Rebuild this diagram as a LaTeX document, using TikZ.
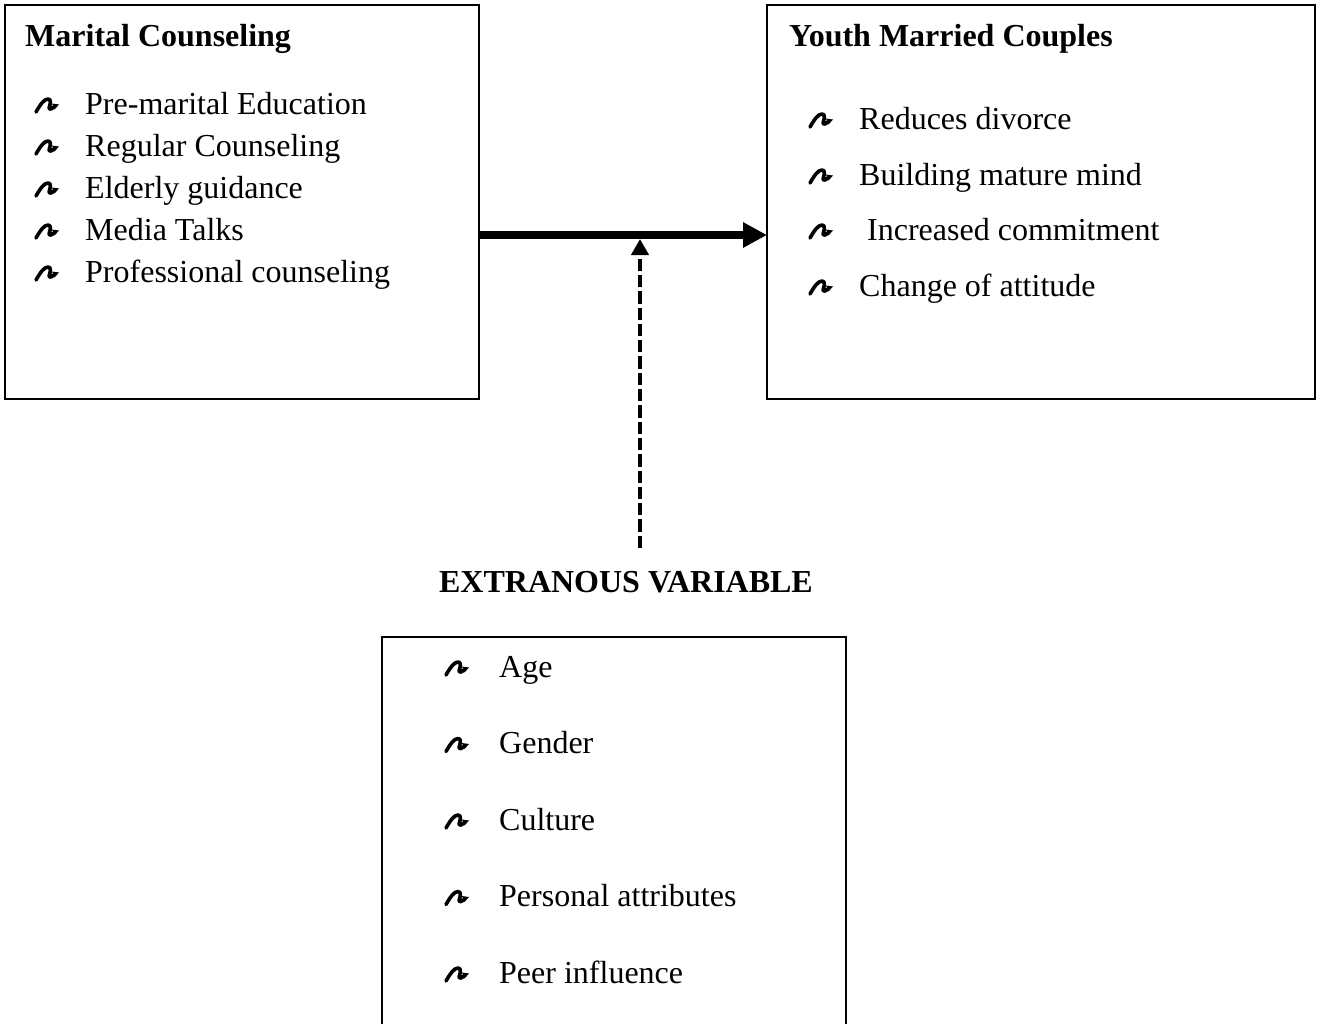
\documentclass[tikz,border=0pt]{standalone}
\usepackage{fontspec}
\setmainfont{Liberation Serif}
\usetikzlibrary{arrows.meta}
\begin{document}
\begin{tikzpicture}[x=1pt,y=-1pt,
  box/.style={draw=black, line width=1.2pt, inner sep=0pt, outer sep=0pt, anchor=north west},
  itm/.style={anchor=base west, inner sep=0pt, font=\fontsize{32}{38}\selectfont},
  ttl/.style={anchor=base west, inner sep=0pt, font=\fontsize{32}{38}\selectfont\bfseries},
  mainarrow/.style={line width=7.5pt, -{Triangle[length=24pt,width=24pt]}},
  dasharrow/.style={line width=4pt, dash pattern=on 12.3pt off 4pt, -{Triangle[length=16pt,width=17pt]}},
  wb/.pic={
    \draw[line width=3.6pt, line cap=round, line join=round]
      (1,-2) .. controls (5,-9) and (9,-15) .. (13,-15)
      .. controls (17,-15) and (15,-9) .. (14,-6)
      .. controls (13.5,-4) and (16,-4.5) .. (19,-7);
    \fill (17,-10.5) -- (24,-9.5) -- (19.5,-4.5) -- cycle;
  }]
\useasboundingbox (0,0) rectangle (1320,1023);
\begin{scope}
\clip (0,0) rectangle (1320,1023);

% boxes
\node[box, minimum width=474pt, minimum height=394pt] (mc) at (5,5) {};
\node[box, minimum width=548pt, minimum height=394pt] (ymc) at (767,5) {};
\node[box, minimum width=464pt, minimum height=420pt] (ev) at (382,637) {};

% left box
\node[ttl] (mct) at (25,46) {Marital Counseling};
\foreach \t [count=\i] in {Pre-marital Education, Regular Counseling, Elderly guidance, Media Talks, Professional counseling}{
  \pic at (35,{72+42*\i}) {wb};
  \node[itm] (mci\i) at (85,{72+42*\i}) {\t};
}

% right box
\node[ttl] (ymct) at (789,46) {Youth Married Couples};
\pic at (809,129) {wb};
\node[itm] (ymc1) at (859,129) {Reduces divorce};
\pic at (809,185) {wb};
\node[itm] (ymc2) at (859,185) {Building mature mind};
\pic at (809,240) {wb};
\node[itm] (ymc3) at (859,240) {\ Increased commitment};
\pic at (809,296) {wb};
\node[itm] (ymc4) at (859,296) {Change of attitude};

% extraneous
\node[ttl, anchor=base] (evt) at (626,592) {EXTRANOUS VARIABLE};
\foreach \t [count=\i] in {Age, Gender, Culture, Personal attributes, Peer influence}{
  \pic at (445,{600.5+76.5*\i}) {wb};
  \node[itm] (evi\i) at (499,{600.5+76.5*\i}) {\t};
}

% connectors
\coordinate (ay) at (0,235);
\draw[mainarrow] (mc.east |- ay) -- (ymc.west |- ay);
\coordinate (ds) at (640,548);
\coordinate (de) at (640,239);
\draw[dasharrow] (ds) -- (de);
\end{scope}
\end{tikzpicture}
\end{document}
